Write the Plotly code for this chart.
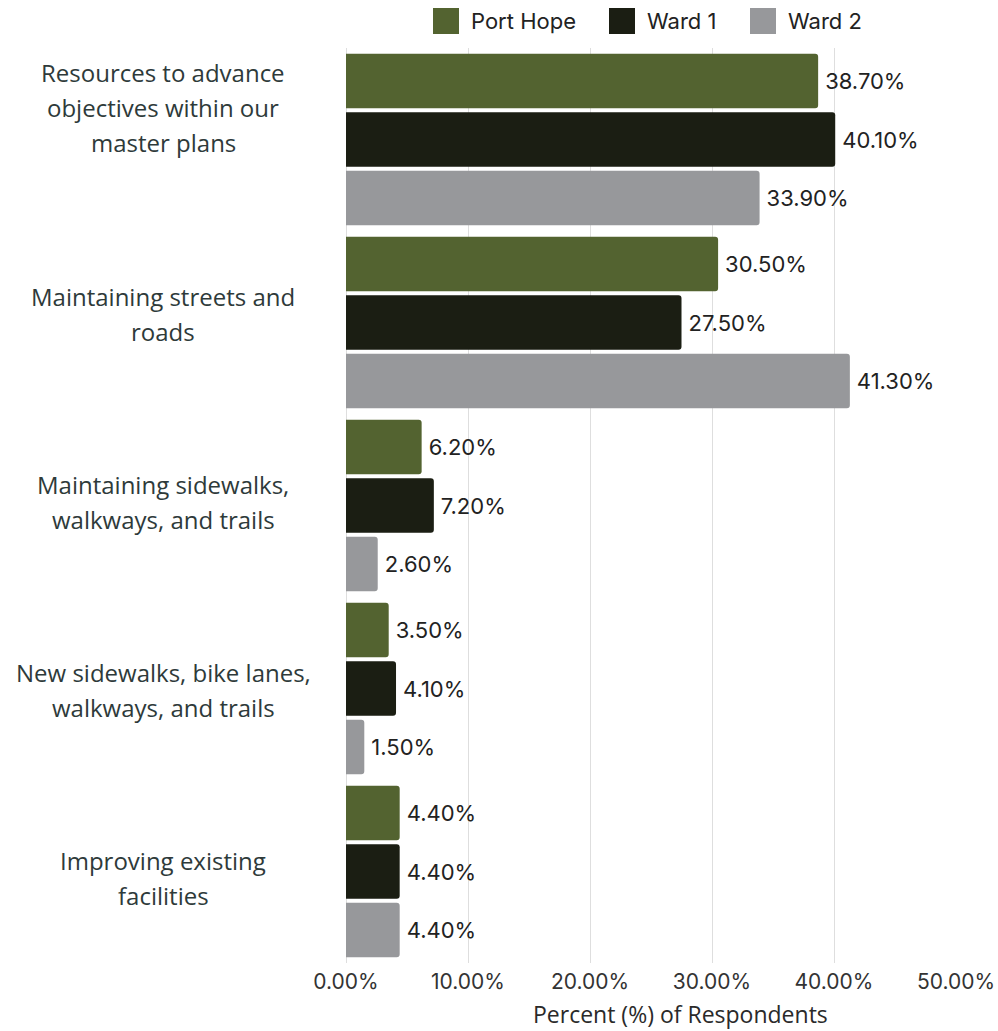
import plotly.graph_objects as go

categories = [
    "Resources to advance<br>objectives within our<br>master plans",
    "Maintaining streets and<br>roads",
    "Maintaining sidewalks,<br>walkways, and trails",
    "New sidewalks, bike lanes,<br>walkways, and trails",
    "Improving existing<br>facilities",
]
port_hope = [38.7, 30.5, 6.2, 3.5, 4.4]
ward_1 = [40.1, 27.5, 7.2, 4.1, 4.4]
ward_2 = [33.9, 41.3, 2.6, 1.5, 4.4]
series_names = ["Port Hope", "Ward 1", "Ward 2"]
x_ticks = [0, 10, 20, 30, 40, 50]
x_title = "Percent (%) of Respondents"

colors = ["#536330", "#1b1e13", "#97989b"]
num_font = "Inter, Roboto, sans-serif"
cat_font = "Open Sans, sans-serif"

# Plot-area geometry in pixels (used for placing legend and titles)
W, H = 998, 1031
ML, MR, MT, MB = 346, 42, 48, 68
PW, PH = W - ML - MR, H - MT - MB


def px_to_paper_x(px):
    return (px - ML) / PW


def px_to_paper_y(py):
    return (H - MB - py) / PH


fig = go.Figure()
for name, vals, col in zip(series_names, [port_hope, ward_1, ward_2], colors):
    fig.add_trace(go.Bar(
        y=categories, x=vals, name=name, orientation="h",
        marker=dict(color=col, cornerradius=3, line=dict(width=0)),
        text=[f"\u2009{v:.2f}%" for v in vals], textposition="outside",
        textfont=dict(family=num_font, size=22, color="#222222"),
        cliponaxis=False, showlegend=False, hoverinfo="skip",
    ))

# Category labels: centred block, one annotation per line for 1.5 line spacing
line_h = 35
label_offsets = [-32, -9, -4, 1, 6]
for cat, off in zip(categories, label_offsets):
    lines = cat.split("<br>")
    n = len(lines)
    for i, ln in enumerate(lines):
        fig.add_annotation(
            x=px_to_paper_x(163), xref="paper", y=cat, yref="y",
            text=ln, showarrow=False, xanchor="center", yanchor="middle",
            yshift=((n - 1) / 2 - i) * line_h - off,
            font=dict(family=cat_font, size=24, color="#2e3a3a"),
        )

# Legend row above the plot: large square swatches with series names
legend_left = [433, 609, 750]
legend_y = px_to_paper_y(21)
for name, col, lx in zip(series_names, colors, legend_left):
    fig.add_shape(
        type="rect", xref="paper", yref="paper",
        xsizemode="pixel", ysizemode="pixel",
        xanchor=px_to_paper_x(lx), yanchor=legend_y,
        x0=0, x1=26, y0=-13, y1=13,
        fillcolor=col, line=dict(width=0), layer="above",
    )
    fig.add_annotation(
        x=px_to_paper_x(lx + 36), xref="paper", y=legend_y, yref="paper",
        text=name, showarrow=False, xanchor="left", yanchor="middle",
        font=dict(family=num_font, size=22, color="#222222"),
    )

# X-axis title
fig.add_annotation(
    x=px_to_paper_x(680), xref="paper", y=px_to_paper_y(1014), yref="paper",
    text=x_title, showarrow=False, xanchor="center", yanchor="middle",
    borderpad=0, font=dict(family=cat_font, size=23, color="#2a2a2a"),
)

fig.update_layout(
    width=W, height=H,
    margin=dict(l=ML, r=MR, t=MT, b=MB),
    paper_bgcolor="white", plot_bgcolor="white",
    barmode="group", bargap=0.04, bargroupgap=0.07,
    showlegend=False,
    xaxis=dict(
        range=[0, 50], tickvals=x_ticks,
        ticktext=[f"{t:.2f}%" for t in x_ticks],
        showgrid=True, gridcolor="#dedede", gridwidth=1,
        zeroline=True, zerolinecolor="#dedede", zerolinewidth=1,
        tickfont=dict(family=num_font, size=21, color="#333333"),
        ticklen=0, ticklabelstandoff=4, automargin=False,
    ),
    yaxis=dict(autorange="reversed", showticklabels=False, showgrid=False,
               zeroline=False, automargin=False),
)

fig.write_html("out.html")
